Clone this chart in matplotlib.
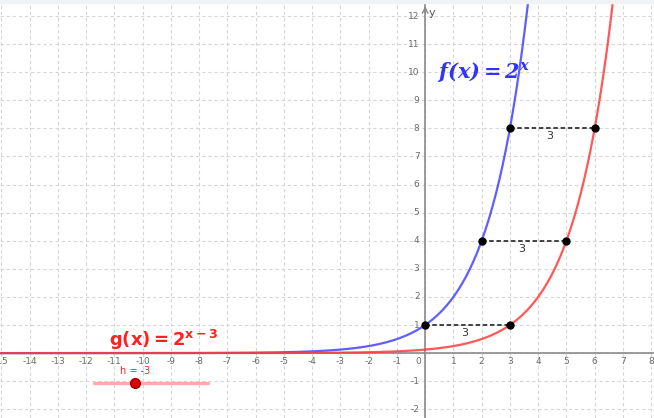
import matplotlib.pyplot as plt
import numpy as np
from matplotlib.patches import Rectangle

# Datos
x_ticks = [v for v in range(-15, 9) if v != 0]
y_ticks = [v for v in range(-2, 13) if v != 0]
puntos_x_f = [0, 2, 3]
puntos_y = [1, 4, 8]
h = -3
desplazamiento = -h
etiquetas_seg = ["3", "3", "3"]

xmin, xmax = -15.05, 8.1
ymin, ymax = -2.31, 12.57

fig = plt.figure(figsize=(6.54, 4.18), dpi=100)
ax = fig.add_axes([0, 0, 1, 1])
ax.set_xlim(xmin, xmax)
ax.set_ylim(ymin, ymax)
ax.axis("off")

fig.patches.append(Rectangle((0, 0.992), 1, 0.008, transform=fig.transFigure,
                             color="#f1f2f4", zorder=10))

# Cuadrícula
gris_grid = "#d6d6d6"
for v in range(-15, 9):
    ax.axvline(v, color=gris_grid, lw=0.8, linestyle=(0, (3, 2.5)), zorder=1)
for v in range(-2, 13):
    ax.axhline(v, color=gris_grid, lw=0.8, linestyle=(0, (3, 2.5)), zorder=1)

# Ejes
gris_eje = "#8a8a8a"
ax.axhline(0, color=gris_eje, lw=1.2, zorder=2)
ax.axvline(0, color=gris_eje, lw=1.2, zorder=2)
ax.annotate("", xy=(0, ymax - 0.12), xytext=(0, ymax - 0.55),
            arrowprops=dict(arrowstyle="->", color=gris_eje, lw=1.0), zorder=2)
ax.text(0.12, 12.1, "y", color="#555555", fontsize=8, ha="left", va="center")

for v in x_ticks:
    ax.text(v, -0.3, str(v), color="#6b6b6b", fontsize=6.5, ha="center", va="center")
for v in y_ticks:
    ax.text(-0.2, v, str(v), color="#6b6b6b", fontsize=6.5, ha="right", va="center")
ax.text(-0.25, -0.3, "0", color="#6b6b6b", fontsize=6.5, ha="center", va="center")

# Curvas
xs = np.linspace(xmin, xmax, 1200)
ax.plot(xs, 2.0 ** xs, color="#4d4dff", lw=1.6, alpha=0.9, zorder=4)
ax.plot(xs, 2.0 ** (xs + h), color="#ff3b3b", lw=1.6, alpha=0.85, zorder=4)

# Segmentos y puntos
for xf, yv, lab in zip(puntos_x_f, puntos_y, etiquetas_seg):
    xg = xf + desplazamiento
    ax.plot([xf, xg], [yv, yv], color="#333333", lw=1.3, linestyle=(0, (2.5, 1.5)), zorder=5)
    ax.plot([xf, xg], [yv, yv], "o", color="black", ms=5, zorder=6)
    ax.text((xf + xg) / 2 - 0.1, yv - 0.28, lab, color="#333333", fontsize=8,
            ha="center", va="center", zorder=6)

# Etiquetas de funciones
ax.text(0.42, 10.0, r"$\mathbfit{f(x)=2^x}$", color="#3333ff", fontsize=15,
        ha="left", va="center", zorder=7, math_fontfamily="dejavuserif")
ax.text(-11.2, 0.47, r"$\mathbf{g(x)=2^{x-3}}$", color="#ff2020", fontsize=13,
        ha="left", va="center", zorder=7, math_fontfamily="dejavusans")

# Deslizador h
ax.plot([-11.73, -7.67], [-1.07, -1.07], color="#ffaaaa", lw=2.4,
        solid_capstyle="round", zorder=5)
ax.plot([h - 7.28], [-1.07], "o", color="#e00000", mec="#990000", ms=7, zorder=6)
ax.text(-10.25, -0.62, f"h = {h}", color="#ff2020", fontsize=7, ha="center",
        va="center", zorder=6)

fig.savefig("out.png", dpi=100)
